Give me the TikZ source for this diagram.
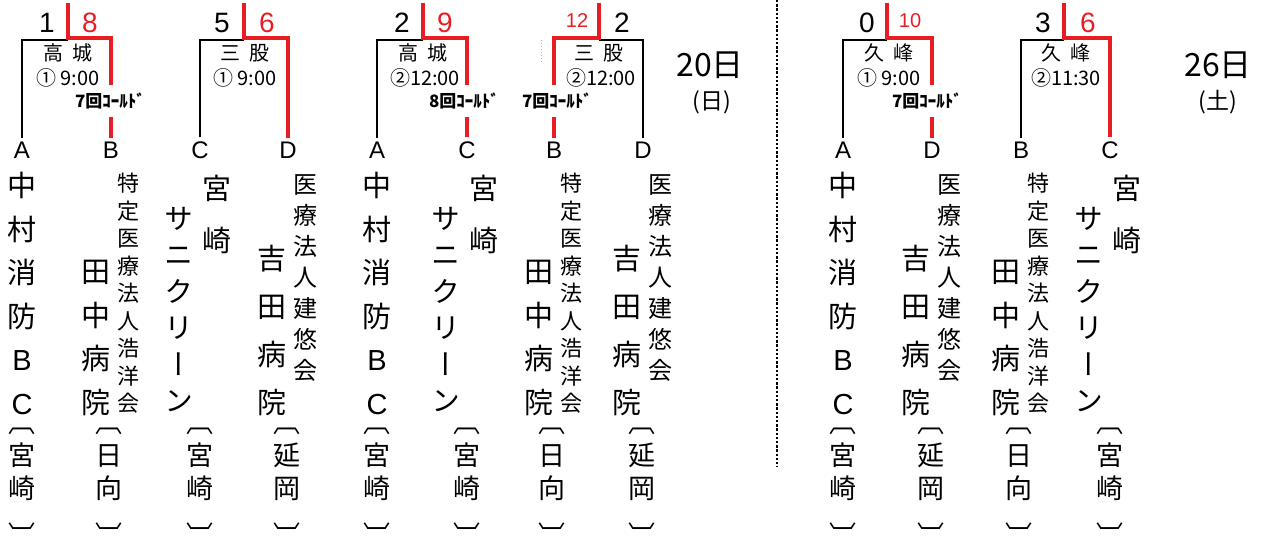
\documentclass[tikz,border=0pt]{standalone}
\usepackage{fontspec}
\setmainfont{Noto Sans CJK JP}
\newfontfamily\tate[RawFeature=+vert]{Noto Sans CJK JP}
\newfontfamily\spaced[WordSpace=1.8]{Noto Sans CJK JP}
\newfontfamily\arial{Liberation Sans}
\definecolor{winred}{RGB}{230,30,36}

% team columns: #1 = name prefix, #2 = x of the team letter
\newcommand{\teamA}[2]{
  \node[namecol={29}{43.6}] (#1name) at (#2,172) {中\\村\\消\\防\\{\arial B}\\{\arial C}};
  \node[home] (#1home) at (#2,428) {〔\\宮\\崎\\[14pt]〕};
}
\newcommand{\teamB}[2]{
  \node[namecol={29}{43.5}] (#1name) at (#2-15,260) {田\\中\\病\\院};
  \node[namecol={22}{27.5}] (#1corp) at (#2+17,173) {特\\定\\医\\療\\法\\人\\浩\\洋\\会};
  \node[home] (#1home) at (#2-2,428) {〔\\日\\向\\[14pt]〕};
}
\newcommand{\teamC}[2]{
  \node[namecol={29}{52}] (#1city) at (#2+17,175) {宮\\崎};
  \node[namecol={29}{36.4}] (#1name) at (#2-21,207) {サ\\ニ\\ク\\リ\\ー\\ン};
  \node[home] (#1home) at (#2,428) {〔\\宮\\崎\\[14pt]〕};
}
\newcommand{\teamD}[2]{
  \node[namecol={29}{48}] (#1name) at (#2-16,245) {吉\\田\\病\\院};
  \node[namecol={24}{31}] (#1corp) at (#2+17,174) {医\\療\\法\\人\\建\\悠\\会};
  \node[home] (#1home) at (#2-1,428) {〔\\延\\岡\\[14pt]〕};
}

\begin{document}
\begin{tikzpicture}[x=1pt,y=-1pt]
    \tikzset{namecol/.style 2 args={inner sep=0pt,align=center,anchor=north,font=\tate\fontsize{#1}{#2}\selectfont}}
    \tikzstyle{home}=[inner sep=0pt,align=center,anchor=north,font=\tate\fontsize{27}{33}\selectfont]
    \tikzstyle{letter}=[inner sep=4pt,font=\arial\fontsize{24}{24}\selectfont]
    \tikzstyle{score}=[inner sep=0pt,font=\arial\fontsize{28}{28}\selectfont]
    \tikzstyle{small score}=[inner sep=0pt,font=\arial\fontsize{20}{20}\selectfont]
    \tikzstyle{hall}=[inner sep=0pt,font=\spaced\fontsize{20}{20}\selectfont]
    \tikzstyle{venue}=[inner sep=0pt,font=\fontsize{20}{20}\selectfont]
    \tikzstyle{cold}=[inner xsep=0pt,inner ysep=7.5pt,font=\bfseries\fontsize{17}{17}\selectfont]
    \tikzstyle{win}=[draw=winred,line width=4pt]
    \tikzstyle{lose}=[draw=black,line width=2pt]
    \tikzstyle{divider}=[draw=black,line width=2.6pt,dash pattern=on 2.4pt off 1.8pt]
    \useasboundingbox (0,0) rectangle (1263,540);

    % 1st game: A - B
    \node[letter] (m1a) at (22,150) {A};
    \node[letter] (m1b) at (111,150) {B};
    \teamA{m1a}{22}
    \teamB{m1b}{111}
    \node[score] (m1sa) at (47,23) {1};
    \node[score,text=winred] (m1sb) at (90,23) {8};
    \node[hall] (m1v) at (68,53) {高 城};
    \node[venue] (m1t) at (68,78) {① 9:00};
    \node[cold] (m1cold) at (110,101) {7回ｺｰﾙﾄﾞ};
    \coordinate (m1top) at (68,3);
    \coordinate (m1l) at (68,40);
    \coordinate (m1r) at (68,38);
    \draw[lose] (m1a.north) |- (m1l);
    \draw[win] (m1b.north) -- (m1cold.south -| m1b.north);
    \draw[win] (m1cold.north -| m1b.north) |- (m1r) -- (m1top);

    % 2nd game: C - D
    \node[letter] (m2c) at (200,150) {C};
    \node[letter] (m2d) at (288,150) {D};
    \teamC{m2c}{200}
    \teamD{m2d}{288}
    \node[score] (m2sc) at (222,23) {5};
    \node[score,text=winred] (m2sd) at (267,23) {6};
    \node[hall] (m2v) at (245,53) {三 股};
    \node[venue] (m2t) at (245,78) {① 9:00};
    \coordinate (m2top) at (244,3);
    \coordinate (m2l) at (244,40);
    \coordinate (m2r) at (244,38);
    \draw[lose] (m2c.north) |- (m2l);
    \draw[win] (m2d.north) |- (m2r) -- (m2top);

    % 3rd game: A - C
    \node[letter] (m3a) at (377,150) {A};
    \node[letter] (m3c) at (467,150) {C};
    \teamA{m3a}{377}
    \teamC{m3c}{467}
    \node[score] (m3sa) at (402,23) {2};
    \node[score,text=winred] (m3sc) at (445,23) {9};
    \node[hall] (m3v) at (423,53) {高 城};
    \node[venue] (m3t) at (425,78) {②12:00};
    \node[cold] (m3cold) at (464,101) {8回ｺｰﾙﾄﾞ};
    \coordinate (m3top) at (423,3);
    \coordinate (m3l) at (423,40);
    \coordinate (m3r) at (423,38);
    \draw[lose] (m3a.north) |- (m3l);
    \draw[win] (m3c.north) -- (m3cold.south -| m3c.north);
    \draw[win] (m3cold.north -| m3c.north) |- (m3r) -- (m3top);

    % 4th game: B - D
    \node[letter] (m4b) at (554,150) {B};
    \node[letter] (m4d) at (643,150) {D};
    \teamB{m4b}{554}
    \teamD{m4d}{643}
    \node[small score,text=winred] (m4sb) at (577,21) {12};
    \node[score] (m4sd) at (622,23) {2};
    \node[hall] (m4v) at (599,53) {三 股};
    \node[venue] (m4t) at (601,78) {②12:00};
    \node[cold] (m4cold) at (557,101) {7回ｺｰﾙﾄﾞ};
    \coordinate (m4top) at (599,3);
    \coordinate (m4l) at (599,40);
    \coordinate (m4r) at (599,38);
    \draw[lose] (m4d.north) |- (m4l);
    \draw[win] (m4b.north) -- (m4cold.south -| m4b.north);
    \draw[win] (m4cold.north -| m4b.north) |- (m4r) -- (m4top);
    \draw[gray!60,dotted,line width=1pt] (541,40) -- (541,63);

    \node[font=\fontsize{32}{32}\selectfont] (d20) at (710,65) {20日};
    \node[font=\fontsize{23}{23}\selectfont] (d20w) at (712,102) {(日)};

    \draw[divider] (777,0) -- (777,467);

    % 5th game: A - D
    \node[letter] (m5a) at (843,150) {A};
    \node[letter] (m5d) at (932,150) {D};
    \teamA{m5a}{843}
    \teamD{m5d}{932}
    \node[score] (m5sa) at (867,23) {0};
    \node[small score,text=winred] (m5sd) at (910,21) {10};
    \node[hall] (m5v) at (889,53) {久 峰};
    \node[venue] (m5t) at (889,78) {① 9:00};
    \node[cold] (m5cold) at (927,101) {7回ｺｰﾙﾄﾞ};
    \coordinate (m5top) at (887,3);
    \coordinate (m5l) at (887,40);
    \coordinate (m5r) at (887,38);
    \draw[lose] (m5a.north) |- (m5l);
    \draw[win] (m5d.north) -- (m5cold.south -| m5d.north);
    \draw[win] (m5cold.north -| m5d.north) |- (m5r) -- (m5top);

    % 6th game: B - C
    \node[letter] (m6b) at (1021,150) {B};
    \node[letter] (m6c) at (1110,150) {C};
    \teamB{m6b}{1021}
    \teamC{m6c}{1110}
    \node[score] (m6sb) at (1043,23) {3};
    \node[score,text=winred] (m6sc) at (1088,23) {6};
    \node[hall] (m6v) at (1066,53) {久 峰};
    \node[venue] (m6t) at (1066,78) {②11:30};
    \coordinate (m6top) at (1064,3);
    \coordinate (m6l) at (1064,40);
    \coordinate (m6r) at (1064,38);
    \draw[lose] (m6b.north) |- (m6l);
    \draw[win] (m6c.north) |- (m6r) -- (m6top);

    \node[font=\fontsize{32}{32}\selectfont] (d26) at (1218,65) {26日};
    \node[font=\fontsize{23}{23}\selectfont] (d26w) at (1218,102) {(土)};
\end{tikzpicture}
\end{document}
